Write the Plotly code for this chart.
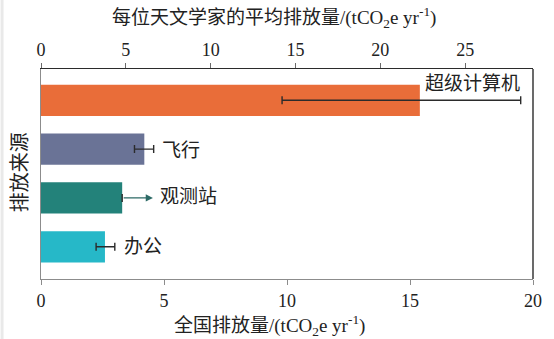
import plotly.graph_objects as go

# Emission sources, listed bottom to top
sources = ["办公", "观测站", "飞行", "超级计算机"]
national = [2.6, 3.3, 4.2, 15.4]          # tCO2e / yr
err_plus = [0.40, 0.0, 0.38, 4.1]
err_minus = [0.36, 0.0, 0.40, 5.6]
colors = ["#26B8C8", "#23827A", "#6A7396", "#E96D39"]

observatory_arrow_end = 4.55
top_ticks = [0, 5, 10, 15, 20, 25]
bottom_ticks = [0, 5, 10, 15, 20]

LAT = "Liberation Serif, Noto Sans CJK SC, serif"
INK = "#2b2b2b"

ML, MR, MT, MB = 41, 14, 69, 60
W, H = 554, 339
PW, PH = W - ML - MR, H - MT - MB


def px_x(px):
    return (px - ML) / PW


def px_y(py):
    return (H - MB - py) / PH


fig = go.Figure()
fig.add_trace(go.Bar(
    y=sources, x=national, orientation="h",
    marker=dict(color=colors, line=dict(width=0)),
    width=0.64,
    error_x=dict(type="data", array=err_plus, arrayminus=err_minus,
                 visible=True, color=INK, thickness=1.4, width=4),
    hoverinfo="skip", showlegend=False,
))
# empty trace so the per-astronomer axis is rendered on top
fig.add_trace(go.Scatter(x=[None], y=[None], xaxis="x2", mode="markers",
                         showlegend=False, hoverinfo="skip"))

annotations = []
# labels to the right of each bar / error bar
label_pos = {
    "超级计算机": dict(x=national[3] + err_plus[3] + 0.05, xanchor="right", yshift=17, xshift=0),
    "飞行": dict(x=national[2] + err_plus[2], xanchor="left", yshift=-1, xshift=6),
    "观测站": dict(x=observatory_arrow_end, xanchor="left", yshift=1, xshift=5),
    "办公": dict(x=national[0] + err_plus[0], xanchor="left", yshift=0, xshift=7),
}
for name, p in label_pos.items():
    annotations.append(dict(
        x=p["x"], y=name, xref="x", yref="y", text=name, showarrow=False,
        xanchor=p["xanchor"], yanchor="middle", xshift=p["xshift"], yshift=p["yshift"],
        font=dict(family=LAT, size=19, color="#222"),
    ))
# arrow for the observatory bar
annotations.append(dict(
    x=observatory_arrow_end, y=1, ax=national[1], ay=1,
    xref="x", yref="y", axref="x", ayref="y", text="",
    showarrow=True, arrowhead=2, arrowsize=1.1, arrowwidth=1.3,
    arrowcolor="#2c6a66", standoff=0, startstandoff=0,
))
# axis titles
annotations += [
    dict(x=px_x(277), y=px_y(18), xref="paper", yref="paper", showarrow=False,
         text="每位天文学家的平均排放量/(tCO<sub>2</sub>e yr<sup>-1</sup>)",
         font=dict(family=LAT, size=19, color="#222"), xanchor="center", yanchor="middle"),
    dict(x=px_x(273), y=px_y(325), xref="paper", yref="paper", showarrow=False,
         text="全国排放量/(tCO<sub>2</sub>e yr<sup>-1</sup>)",
         font=dict(family=LAT, size=19, color="#222"), xanchor="center", yanchor="middle"),
    dict(x=px_x(20), y=px_y(172), xref="paper", yref="paper", showarrow=False,
         text="排放来源", textangle=-90,
         font=dict(family=LAT, size=20, color="#222"), xanchor="center", yanchor="middle"),
]

shapes = [
    # right frame line
    dict(type="line", xref="paper", yref="paper", x0=1, x1=1, y0=0, y1=1,
         line=dict(color=INK, width=1.4)),
    # light grey strip along the left edge of the page
    dict(type="rect", xref="paper", yref="paper", x0=px_x(0), x1=px_x(3),
         y0=px_y(H), y1=px_y(0), fillcolor="#e9e9e9", line=dict(width=0), layer="below"),
]

fig.update_layout(
    width=W, height=H,
    margin=dict(l=ML, r=MR, t=MT, b=MB),
    paper_bgcolor="white", plot_bgcolor="white",
    font=dict(family=LAT, size=18, color="#222"),
    xaxis=dict(range=[0, 20], tickvals=bottom_ticks, showgrid=False, zeroline=False,
               showline=True, linecolor="#8c8c8c", linewidth=1.4,
               ticks="outside", ticklen=5, tickcolor="#8c8c8c", tickwidth=1.2,
               tickfont=dict(family=LAT, size=18, color="#222")),
    xaxis2=dict(range=[0, 29], tickvals=top_ticks, overlaying="x", side="top",
                showgrid=False, zeroline=False, showline=True, linecolor=INK, linewidth=1.2,
                ticks="outside", ticklen=5, tickcolor="#6a6a6a", tickwidth=1.2,
                tickfont=dict(family=LAT, size=18, color="#222")),
    yaxis=dict(range=[-0.66, 3.64], showgrid=False, zeroline=False, showticklabels=False,
               ticks="", showline=True, linecolor="#8c8c8c", linewidth=1.4),
    annotations=annotations,
    shapes=shapes,
    showlegend=False,
)

fig.write_html("out.html")
